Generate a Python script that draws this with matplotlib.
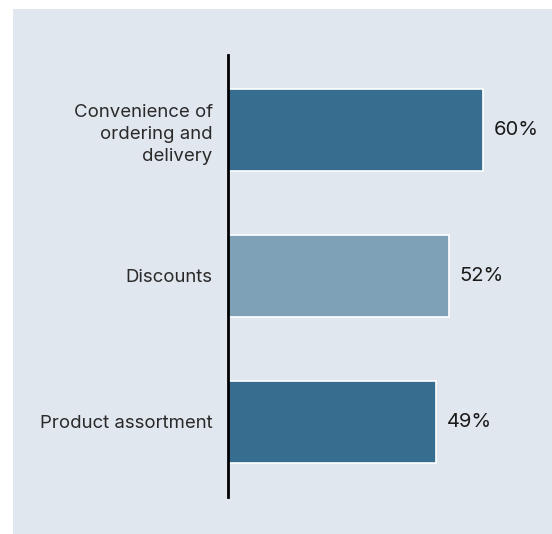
import matplotlib.pyplot as plt
from matplotlib.patches import Rectangle

plt.rcParams['font.family'] = ['Inter', 'DejaVu Sans']

# survey data
categories = ['Convenience of\nordering and\ndelivery', 'Discounts', 'Product assortment']
values = [60, 52, 49]
colors = ['#376d8e', '#7ea1b8', '#376d8e']

bg = '#e1e7ef'

fig = plt.figure(figsize=(5.52, 5.34), dpi=100)
fig.patch.set_facecolor('white')
# panel background (leaves a thin white margin top/left)
fig.add_artist(Rectangle((13 / 552, 0), 1, (534 - 9) / 534,
                         transform=fig.transFigure, facecolor=bg,
                         edgecolor='none', zorder=-10))

ax = fig.add_axes([228 / 552, 37 / 534, 1 - 228 / 552, (497 - 55) / 534])
ax.set_facecolor('none')

y = list(range(len(categories)))
ax.barh(y, values, height=0.56, color=colors, edgecolor='white', linewidth=1.2)

for yi, v in zip(y, values):
    ax.text(v + 2.4, yi, f'{v}%', va='center', ha='left', fontsize=14.5,
            color='#1a1a1a')

ax.set_ylim(2.514, -0.514)
ax.set_xlim(0, 76.2)
ax.set_yticks(y)
ax.set_yticklabels(categories, fontsize=13.4, color='#2a2a2a', ha='right',
                   linespacing=1.38)
ax.tick_params(axis='y', length=0, pad=11)
ax.set_xticks([])

for s in ['top', 'right', 'bottom']:
    ax.spines[s].set_visible(False)
ax.spines['left'].set_linewidth(2)
ax.spines['left'].set_color('black')

fig.savefig('out.png', dpi=100)
